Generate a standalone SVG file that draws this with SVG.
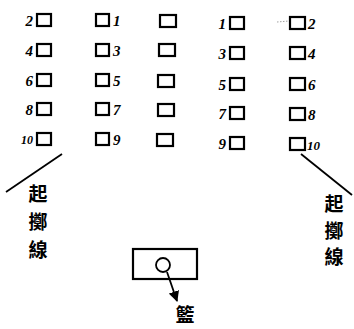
<svg xmlns="http://www.w3.org/2000/svg" width="354" height="329" viewBox="0 0 354 329">
<style>
.sq{fill:none;stroke:#000;stroke-width:2.2}
.n{font-family:"Liberation Serif",serif;font-style:italic;font-weight:bold;font-size:15px;fill:#000}
.l{text-anchor:end}
.cj{font-family:"Noto Sans CJK TC","Noto Sans CJK JP",sans-serif;font-weight:bold;font-size:19px;fill:#000;text-anchor:middle}
.ln{stroke:#000;stroke-width:1.8;fill:none}
</style>
<defs>
<marker id="ah" viewBox="0 0 10 10" refX="9" refY="5" markerWidth="6" markerHeight="6" orient="auto"><path d="M0,0 L10,5 L0,10 z" fill="#000"/></marker>
</defs>
<rect width="354" height="329" fill="#fff"/>
<g id="col1">
<rect class="sq" x="37" y="14" width="14" height="12"/><text class="n l" x="33" y="26">2</text>
<rect class="sq" x="37" y="44" width="14" height="12"/><text class="n l" x="33" y="56">4</text>
<rect class="sq" x="37" y="74" width="14" height="12"/><text class="n l" x="33" y="86">6</text>
<rect class="sq" x="37" y="103" width="14" height="12"/><text class="n l" x="33" y="115">8</text>
<rect class="sq" x="37" y="133" width="14" height="12"/><text class="n l" x="33" y="144" style="font-size:12px">10</text>
</g>
<g id="col2">
<rect class="sq" x="96" y="14" width="13" height="12"/><text class="n" x="113" y="26">1</text>
<rect class="sq" x="96" y="44" width="13" height="12"/><text class="n" x="113" y="56">3</text>
<rect class="sq" x="96" y="74" width="13" height="12"/><text class="n" x="113" y="86">5</text>
<rect class="sq" x="96" y="103" width="13" height="12"/><text class="n" x="113" y="115">7</text>
<rect class="sq" x="96" y="133" width="13" height="12"/><text class="n" x="113" y="145">9</text>
</g>
<g id="col3">
<rect class="sq" x="160" y="15" width="16" height="12"/>
<rect class="sq" x="159" y="44" width="16" height="12"/>
<rect class="sq" x="158" y="75" width="16" height="12"/>
<rect class="sq" x="158" y="104" width="16" height="12"/>
<rect class="sq" x="157" y="134" width="16" height="12"/>
</g>
<g id="col4">
<rect class="sq" x="230" y="17" width="14" height="12"/><text class="n l" x="226" y="29">1</text>
<rect class="sq" x="230" y="47" width="14" height="12"/><text class="n l" x="226" y="59">3</text>
<rect class="sq" x="230" y="78" width="14" height="12"/><text class="n l" x="226" y="90">5</text>
<rect class="sq" x="230" y="107" width="14" height="12"/><text class="n l" x="226" y="119">7</text>
<rect class="sq" x="230" y="137" width="14" height="12"/><text class="n l" x="226" y="149">9</text>
</g>
<g id="col5">
<rect class="sq" x="290" y="17" width="15" height="12"/><text class="n" x="308" y="29">2</text>
<rect class="sq" x="290" y="47" width="15" height="12"/><text class="n" x="308" y="59">4</text>
<rect class="sq" x="290" y="78" width="15" height="12"/><text class="n" x="308" y="90">6</text>
<rect class="sq" x="290" y="108" width="15" height="12"/><text class="n" x="308" y="120">8</text>
<rect class="sq" x="290" y="138" width="15" height="12"/><text class="n" x="307" y="150" style="font-size:13px">10</text>
</g>
<g id="connectors">
<line x1="277" y1="22" x2="289" y2="21" stroke="#888" stroke-width="0.8" stroke-dasharray="1.5,1.5"/>
<line class="ln" x1="62" y1="154" x2="6" y2="192"/>
<line class="ln" x1="301" y1="154" x2="352" y2="195"/>
<line class="ln" x1="167" y1="272" x2="177" y2="301" marker-end="url(#ah)" stroke-width="1.5"/>
</g>
<g id="left-label">
<text class="cj" x="38" y="201">起</text>
<text class="cj" x="38" y="229">擲</text>
<text class="cj" x="38" y="257">線</text>
</g>
<g id="right-label">
<text class="cj" x="334" y="211">起</text>
<text class="cj" x="334" y="238">擲</text>
<text class="cj" x="334" y="264">線</text>
</g>
<g id="basket">
<rect class="sq" x="133" y="249" width="64" height="30"/>
<circle cx="163" cy="265" r="7" fill="none" stroke="#000" stroke-width="1.8"/>
<text class="cj" x="185" y="322">籃</text>
</g>
</svg>
